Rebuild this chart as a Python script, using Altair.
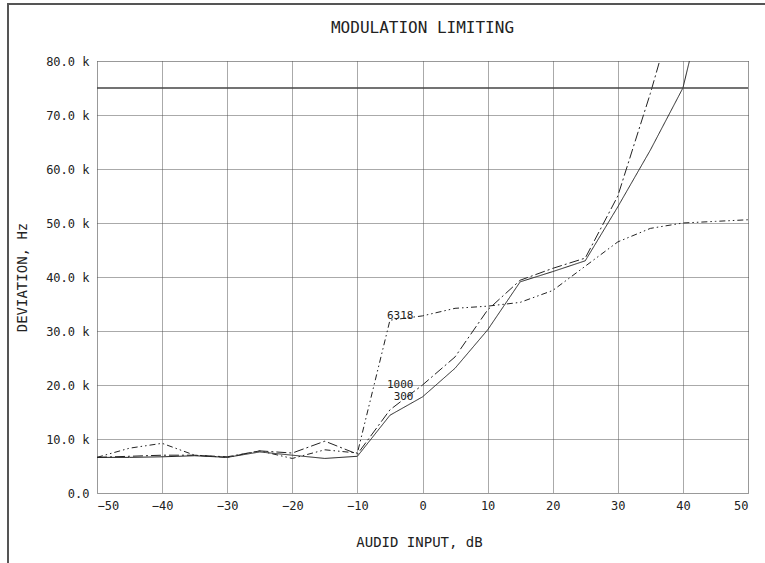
import altair as alt
import pandas as pd

# ---- data (deviation in kHz) ----
X_300 = [-50, -45, -40, -35, -30, -25, -20, -15, -10, -5, 0, 5, 10, 15, 20, 25, 30, 35, 40, 45]
Y_300 = [6.6, 6.6, 6.7, 6.9, 6.6, 7.6, 7.0, 6.4, 6.8, 14.4, 17.8, 23.1, 30.2, 39.1, 41.0, 43.0, 53.0, 63.5, 75.0, 100.0]

X_1000 = [-50, -45, -40, -35, -30, -25, -20, -15, -10, -5, 0, 5, 10, 15, 20, 25, 30, 35, 40]
Y_1000 = [6.6, 6.8, 7.0, 7.0, 6.7, 7.8, 7.4, 9.6, 7.2, 15.4, 20.0, 25.2, 33.9, 39.4, 41.6, 43.5, 55.0, 74.0, 95.0]

X_6318 = [-50, -45, -40, -35, -30, -25, -20, -15, -10, -5, 0, 5, 10, 15, 20, 25, 30, 35, 40, 45, 50]
Y_6318 = [6.6, 8.3, 9.2, 7.0, 6.6, 7.8, 6.4, 8.0, 7.4, 32.0, 32.8, 34.2, 34.6, 35.3, 37.5, 42.0, 46.5, 49.0, 50.0, 50.3, 50.6]

SERIES = ["300", "1000", "6318"]
LIMIT_K = [75.0]
X_TICKS = [-50, -40, -30, -20, -10, 0, 10, 20, 30, 40, 50]
Y_TICKS_K = [0, 10, 20, 30, 40, 50, 60, 70, 80]

rows = []
for name, xs, ys in [("300", X_300, Y_300), ("1000", X_1000, Y_1000), ("6318", X_6318, Y_6318)]:
    for x, y in zip(xs, ys):
        rows.append({"series": name, "x": x, "y": y * 1000})
df = pd.DataFrame(rows)
df_lab = df[df["x"] == 0].copy()
df_lim = pd.DataFrame({"y": [v * 1000 for v in LIMIT_K]})

FONT = "DejaVu Sans Mono"
INK = "#222222"
GRID = "#555555"

xscale = alt.Scale(domain=[-50, 50], nice=False, zero=False)
yscale = alt.Scale(domain=[0, 80000], nice=False)

xaxis = alt.Axis(
    title="AUDID INPUT, dB", values=X_TICKS, grid=True, ticks=False, domain=False,
    gridColor=GRID, gridDash=[1, 1], gridWidth=1, gridOpacity=1,
    labelFont=FONT, labelFontSize=12, labelColor=INK, labelPadding=7,
    titleFont=FONT, titleFontSize=14, titleFontWeight="normal", titleColor=INK,
    titleY=49, titleX=322, titleBaseline="middle",
)
yaxis = alt.Axis(
    title="DEVIATION, Hz", values=[v * 1000 for v in Y_TICKS_K], grid=True, ticks=False, domain=False,
    gridColor=GRID, gridDash=[1, 1], gridWidth=1, gridOpacity=1,
    labelExpr="datum.value == 0 ? '0.0' : format(datum.value / 1000, '.1f') + ' k'",
    labelFont=FONT, labelFontSize=12, labelColor=INK, labelPadding=8,
    titleFont=FONT, titleFontSize=14, titleFontWeight="normal", titleColor=INK,
    titleX=-75, titleY=216, titleAngle=270, titleAlign="center", titleBaseline="middle",
)

lines = alt.Chart(df).mark_line(clip=True, strokeWidth=1, color=INK).encode(
    x=alt.X("x:Q", scale=xscale, axis=xaxis),
    y=alt.Y("y:Q", scale=yscale, axis=yaxis),
    strokeDash=alt.StrokeDash(
        "series:N",
        scale=alt.Scale(domain=SERIES, range=[[1, 0], [10, 3, 2, 3], [6, 3, 1.5, 3, 1.5, 3]]),
        legend=None,
    ),
    order="x:Q",
)

limit = alt.Chart(df_lim).mark_rule(color="#444444", strokeWidth=1.5).encode(y=alt.Y("y:Q", scale=yscale))

labels = alt.Chart(df_lab).mark_text(
    align="right", baseline="middle", dx=-9, font=FONT, fontSize=11, color=INK
).encode(x=alt.X("x:Q", scale=xscale), y=alt.Y("y:Q", scale=yscale), text="series:N")

# page frame (top and left edges of the scanned sheet)
frame_top = alt.Chart(df_lim).mark_rule(color="#555555", strokeWidth=2).encode(
    x=alt.value(-89), x2=alt.value(680), y=alt.value(-57)
)
frame_left = alt.Chart(df_lim).mark_rule(color="#555555", strokeWidth=2).encode(
    x=alt.value(-89), y=alt.value(-58), y2=alt.value(520)
)

chart = alt.layer(lines, limit, labels, frame_top, frame_left).properties(
    width=651,
    height=432,
    autosize=alt.AutoSizeParams(type="none"),
    padding={"left": 97, "top": 61, "right": 17, "bottom": 70},
    title=alt.TitleParams(
        "MODULATION LIMITING", font=FONT, fontSize=16, fontWeight="normal", color=INK,
        anchor="middle", frame="group", baseline="middle", offset=-42,
    ),
).configure_view(stroke=None).configure(background="white")

chart.save("out.html", embed_options={"renderer": "svg", "actions": False})
